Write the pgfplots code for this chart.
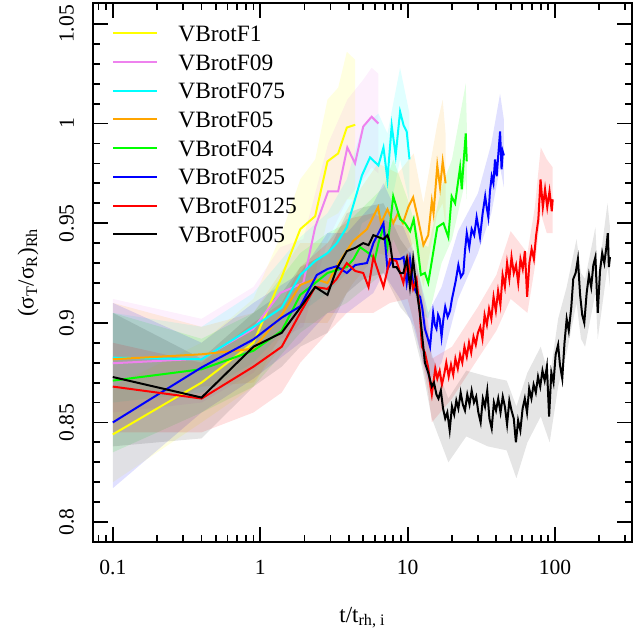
\documentclass[border=0pt]{standalone}
\usepackage{fontspec}
\setmainfont{Liberation Serif}
\usepackage{pgfplots}
\usepackage{pgfplotstable}
\pgfplotsset{compat=1.18}
\usepgfplotslibrary{fillbetween}
\definecolor{cF1}{HTML}{FFFF00}
\definecolor{cF09}{HTML}{EE82EE}
\definecolor{cF075}{HTML}{00FFFF}
\definecolor{cF05}{HTML}{FFA500}
\definecolor{cF04}{HTML}{00FF00}
\definecolor{cF025}{HTML}{0000FF}
\definecolor{cF0125}{HTML}{FF0000}
\definecolor{cF005}{HTML}{000000}

% ---------------- lines ----------------
\pgfplotstableread{
t v
0.1 0.844
0.4 0.870
0.9 0.890
1.4 0.923
1.87 0.947
2.36 0.9535
2.86 0.981
3.38 0.985
3.87 0.998
4.41 0.9994
}\lA
\pgfplotstableread{
t v
0.1 0.8797
0.4 0.882
0.9 0.897
1.37 0.915
1.96 0.920
2.36 0.948
2.89 0.966
3.38 0.966
3.9 0.988
4.4 0.980
5.0 0.9985
5.7 1.0034
6.34 1.000
}\lB
\pgfplotstableread{
t v
0.1 0.8825
0.4 0.8817
0.9 0.898
1.4 0.9076
1.87 0.924
2.36 0.931
2.86 0.935
3.31 0.940
3.87 0.948
4.4 0.962
4.9 0.974
5.56 0.983
6.34 0.979
6.86 0.988
7.3 0.972
7.8 0.999
8.3 0.984
8.89 1.006
9.4 0.999
9.86 0.996
10.3 0.982
}\lC
\pgfplotstableread{
t v
0.1 0.8817
0.4 0.8842
0.9 0.887
1.4 0.904
1.87 0.919
2.36 0.922
2.86 0.920
3.4 0.930
4.27 0.941
5.3 0.947
6.3 0.958
6.6 0.950
7.3 0.957
8.0 0.950
8.6 0.955
9.3 0.950
10.1 0.958
10.9 0.963
11.7 0.953
12.8 0.939
13.8 0.944
14.6 0.961
15.0 0.955
15.9 0.979
16.6 0.968
17.3 0.981
18.1 0.970
}\lD
\pgfplotstableread{
t v
0.1 0.871
0.4 0.8767
0.9 0.886
1.4 0.896
1.87 0.914
2.36 0.920
2.86 0.925
3.87 0.928
4.3 0.932
4.76 0.938
5.43 0.935
6.0 0.932
6.34 0.940
6.86 0.948
7.3 0.938
7.99 0.9635
8.9 0.952
9.6 0.950
10.4 0.946
11.0 0.952
11.6 0.940
12.3 0.924
13.1 0.925
13.8 0.920
14.6 0.931
15.9 0.948
17.5 0.950
18.9 0.943
19.9 0.9635
21.0 0.960
22.7 0.978
23.3 0.967
24.0 0.981
24.8 0.995
25.2 0.981
}\lE
\pgfplotstableread{
t v
0.1 0.850
0.4 0.8776
0.9 0.8917
1.4 0.9026
1.87 0.9083
2.42 0.924
2.86 0.927
3.3 0.9284
3.87 0.925
4.41 0.929
5.3 0.930
5.86 0.940
6.86 0.950
7.3 0.927
7.99 0.932
8.9 0.932
9.4 0.933
9.86 0.920
10.38 0.932
11.0 0.918
11.5 0.915
12.15 0.913
12.6 0.907
13.1 0.897
13.6 0.893
14.2 0.888
14.9 0.905
15.3 0.899
15.7 0.897
16.1 0.904
16.5 0.902
17.0 0.893
17.5 0.902
18.0 0.908
18.7 0.903
19.4 0.906
20.0 0.912
20.4 0.915
21.2 0.921
22.1 0.929
23.0 0.923
23.9 0.925
24.5 0.936
25.2 0.945
26.2 0.938
27.2 0.947
28.3 0.944
29.4 0.953
30.2 0.948
31.0 0.943
32.3 0.955
33.6 0.9635
34.4 0.958
35.3 0.953
36.2 0.966
37.2 0.9735
38.2 0.970
39.2 0.982
40.2 0.9735
41.3 0.985
42.4 0.996
43.4 0.977
44.2 0.986
45.0 0.984
}\lF
\pgfplotstableread{
t v
0.1 0.868
0.4 0.862
0.9 0.878
1.4 0.888
1.87 0.905
2.36 0.918
2.86 0.917
3.3 0.922
3.87 0.930
4.41 0.926
5.0 0.925
5.43 0.918
5.86 0.933
6.86 0.918
7.6 0.932
8.4 0.931
9.36 0.920
10.0 0.932
10.9 0.917
11.5 0.922
12.1 0.905
12.5 0.888
13.1 0.885
13.8 0.8775
14.3 0.868
14.6 0.864
15.4 0.877
15.9 0.872
16.5 0.876
17.1 0.869
17.7 0.874
18.3 0.880
19.0 0.873
19.7 0.879
20.4 0.874
21.1 0.882
21.9 0.877
22.7 0.884
23.5 0.880
24.3 0.888
25.2 0.883
26.1 0.890
27.0 0.885
28.0 0.893
29.0 0.889
30.0 0.895
31.1 0.898
32.2 0.892
33.3 0.904
34.5 0.899
35.7 0.907
37.0 0.902
38.3 0.913
39.7 0.906
41.1 0.916
42.6 0.909
44.1 0.924
45.7 0.918
47.3 0.930
49.0 0.922
50.7 0.933
52.5 0.925
54.4 0.929
56.3 0.920
58.3 0.932
60.4 0.927
62.5 0.936
64.7 0.913
67.0 0.930
69.4 0.937
71.9 0.932
74.5 0.944
77.1 0.952
79.8 0.972
82.7 0.958
85.6 0.967
88.6 0.958
91.8 0.966
95.1 0.956
96.5 0.962
}\lG
\pgfplotstableread{
t v
0.1 0.8728
0.4 0.8625
0.9 0.888
1.4 0.895
1.87 0.9076
2.36 0.918
2.86 0.914
3.3 0.927
3.87 0.936
4.41 0.9376
5.0 0.940
5.43 0.939
5.86 0.944
6.34 0.943
6.86 0.942
7.3 0.944
7.6 0.940
8.0 0.928
8.4 0.928
8.9 0.925
9.36 0.925
9.86 0.932
10.38 0.918
10.9 0.932
11.5 0.917
12.1 0.905
12.5 0.895
13.1 0.880
13.8 0.875
14.6 0.868
15.1 0.870
15.7 0.864
16.2 0.862
16.8 0.866
17.4 0.857
18.0 0.852
18.6 0.855
19.3 0.846
20.0 0.858
20.7 0.854
21.4 0.861
22.1 0.857
22.9 0.865
23.7 0.859
24.5 0.856
25.4 0.864
26.3 0.859
27.2 0.866
28.2 0.860
29.2 0.863
30.2 0.855
31.3 0.850
32.4 0.862
33.5 0.858
34.7 0.866
35.9 0.852
37.2 0.847
38.5 0.860
39.8 0.856
41.2 0.862
42.7 0.855
44.2 0.863
45.7 0.858
47.3 0.849
49.0 0.861
50.7 0.856
52.5 0.852
54.3 0.840
56.2 0.851
58.2 0.846
60.3 0.857
62.4 0.862
64.6 0.855
66.8 0.867
69.2 0.862
71.6 0.869
74.1 0.865
76.7 0.873
79.4 0.868
82.2 0.876
85.1 0.871
88.1 0.878
91.2 0.853
94.4 0.875
97.7 0.870
101 0.884
105 0.889
108 0.879
112 0.872
116 0.890
120 0.902
124 0.896
129 0.908
133 0.922
138 0.925
143 0.932
148 0.914
153 0.904
158 0.900
164 0.915
170 0.924
176 0.918
182 0.929
188 0.933
195 0.905
202 0.926
209 0.935
216 0.930
224 0.939
228 0.945
232 0.928
236 0.933
}\lH

% ---------------- bands ----------------
\pgfplotstableread{
t lo hi
0.1 0.820 0.868
0.4 0.850 0.890
0.9 0.868 0.912
1.4 0.895 0.945
1.87 0.920 0.972
2.36 0.925 0.982
2.86 0.952 1.012
3.38 0.955 1.018
3.87 0.962 1.036
4.41 0.962 1.032
}\bA
\pgfplotstableread{
t lo hi
0.1 0.855 0.912
0.4 0.860 0.902
0.9 0.875 0.918
1.37 0.892 0.938
1.96 0.898 0.942
2.89 0.942 0.990
3.9 0.962 1.012
5.0 0.972 1.022
5.7 0.978 1.028
6.34 0.975 1.025
}\bB
\pgfplotstableread{
t lo hi
0.1 0.860 0.905
0.4 0.865 0.898
0.9 0.880 0.915
1.87 0.905 0.943
2.86 0.915 0.955
3.87 0.925 0.972
4.9 0.950 0.998
6.34 0.955 1.005
7.3 0.950 0.995
8.89 0.982 1.028
10.3 0.960 1.005
}\bC
\pgfplotstableread{
t lo hi
0.1 0.845 0.910
0.4 0.868 0.898
0.9 0.870 0.905
1.87 0.900 0.940
2.86 0.900 0.940
4.27 0.920 0.962
6.3 0.935 0.980
8.6 0.932 0.975
11.0 0.940 0.985
12.8 0.918 0.960
15.9 0.955 1.000
17.3 0.960 1.012
18.1 0.948 0.995
}\bD
\pgfplotstableread{
t lo hi
0.1 0.835 0.905
0.4 0.855 0.892
0.9 0.868 0.905
1.87 0.895 0.935
2.86 0.905 0.945
3.87 0.910 0.950
6.86 0.925 0.968
8.0 0.942 0.982
10.0 0.925 0.962
12.3 0.905 0.940
13.8 0.902 0.938
17.0 0.930 0.968
20.0 0.942 0.982
24.8 0.972 1.020
25.2 0.962 1.000
}\bE
\pgfplotstableread{
t lo hi
0.1 0.817 0.910
0.4 0.855 0.890
0.9 0.872 0.910
1.87 0.890 0.925
2.86 0.905 0.945
3.87 0.905 0.945
5.86 0.915 0.960
6.86 0.925 0.970
8.9 0.912 0.952
11.0 0.898 0.935
13.8 0.870 0.905
17.0 0.880 0.918
22.0 0.912 0.946
30.0 0.935 0.965
37.0 0.955 0.990
42.4 0.978 1.015
45.0 0.968 1.002
}\bF
\pgfplotstableread{
t lo hi
0.1 0.845 0.890
0.4 0.845 0.880
0.9 0.855 0.900
1.4 0.865 0.910
1.87 0.880 0.928
2.86 0.895 0.940
3.87 0.905 0.952
5.86 0.905 0.955
7.6 0.910 0.950
10.0 0.912 0.948
11.5 0.895 0.930
13.8 0.865 0.900
14.6 0.850 0.882
20.0 0.862 0.888
30.0 0.882 0.908
40.0 0.896 0.924
50.0 0.912 0.946
65.0 0.905 0.935
73.0 0.928 0.958
80.0 0.955 0.988
88.0 0.945 0.982
96.5 0.945 0.978
}\bG
\pgfplotstableread{
t lo hi
0.1 0.838 0.905
0.4 0.842 0.882
0.9 0.868 0.905
1.4 0.878 0.915
1.87 0.888 0.928
2.86 0.895 0.935
3.87 0.915 0.955
5.0 0.922 0.958
6.86 0.925 0.960
8.9 0.908 0.942
10.4 0.902 0.935
12.5 0.878 0.912
14.6 0.852 0.884
18.9 0.830 0.862
25.0 0.843 0.876
35.0 0.838 0.873
47.0 0.836 0.871
54.7 0.822 0.858
65.0 0.840 0.875
80.0 0.853 0.888
92.0 0.840 0.872
105 0.868 0.902
120 0.885 0.918
140 0.910 0.942
150 0.892 0.925
160 0.888 0.922
188 0.915 0.948
195 0.892 0.922
227 0.928 0.960
236 0.918 0.948
}\bH

\newcommand{\band}[4]{%
  \addplot[draw=none, forget plot, name path=#1lo] table[x=t,y=lo]{#2};
  \addplot[draw=none, forget plot, name path=#1hi] table[x=t,y=hi]{#2};
  \addplot[draw=none, fill=#3, fill opacity=#4, forget plot] fill between[of=#1lo and #1hi];
}

\begin{document}
\begin{tikzpicture}
\begin{axis}[
  width=269.5pt, height=269.5pt, scale only axis,
  xmode=log, xmin=0.0734, xmax=333, ymin=0.790, ymax=1.0605,
  xtick={0.1,1,10,100}, xticklabels={0.1,1,10,100},
  minor xtick={0.08,0.09,0.2,0.3,0.4,0.5,0.6,0.7,0.8,0.9,2,3,4,5,6,7,8,9,20,30,40,50,60,70,80,90,200,300},
  ytick={0.8,0.85,0.9,0.95,1,1.05}, yticklabels={0.8,0.85,0.9,0.95,1,1.05},
  minor ytick={0.81,0.82,0.83,0.84,0.86,0.87,0.88,0.89,0.91,0.92,0.93,0.94,0.96,0.97,0.98,0.99,1.01,1.02,1.03,1.04},
  tick align=inside, xtick pos=both, ytick pos=both,
  major tick length=7.5pt, minor tick length=3.75pt,
  axis line style={line width=1.2pt},
  every tick/.style={black, line width=0.9pt},
  xticklabel style={font=\fontsize{10.8}{12}\selectfont, yshift=-5.5pt},
  yticklabel style={font=\fontsize{10.8}{12}\selectfont, rotate=90, anchor=south, yshift=6pt},
  xlabel={t/t\textsubscript{rh, i}},
  ylabel={(σ\textsubscript{T}/σ\textsubscript{R})\textsubscript{Rh}},
  xlabel style={at={(axis description cs:0.5,-0.1405)}, anchor=center},
  ylabel style={at={(axis description cs:-0.1206,0.5)}, anchor=center},
  label style={font=\fontsize{11.5}{13}\selectfont},
  legend cell align=left,
  legend image code/.code={\draw[#1] (0pt,0pt) -- (22pt,0pt);},
  legend style={at={(0.0353,0.963)}, anchor=north west, draw=none, fill=none,
    inner sep=0pt, row sep=4.35pt, font=\fontsize{11.7}{14}\selectfont,
    nodes={inner sep=1pt, text height=8pt, text depth=0pt},
    /tikz/every odd column/.append style={column sep=9pt}},
]
\band{a}{\bA}{cF1}{0.12}
\band{b}{\bB}{cF09}{0.12}
\band{c}{\bC}{cF075}{0.12}
\band{d}{\bD}{cF05}{0.12}
\band{e}{\bE}{cF04}{0.12}
\band{f}{\bF}{cF025}{0.12}
\band{g}{\bG}{cF0125}{0.12}
\band{h}{\bH}{cF005}{0.1}
\addplot[cF1, line width=1pt] table[x=t,y=v]{\lA};
\addlegendentry{VBrotF1}
\addplot[cF09, line width=1pt] table[x=t,y=v]{\lB};
\addlegendentry{VBrotF09}
\addplot[cF075, line width=1pt] table[x=t,y=v]{\lC};
\addlegendentry{VBrotF075}
\addplot[cF05, line width=1pt] table[x=t,y=v]{\lD};
\addlegendentry{VBrotF05}
\addplot[cF04, line width=1pt] table[x=t,y=v]{\lE};
\addlegendentry{VBrotF04}
\addplot[cF025, line width=1pt] table[x=t,y=v]{\lF};
\addlegendentry{VBrotF025}
\addplot[cF0125, line width=1pt] table[x=t,y=v]{\lG};
\addlegendentry{VBrotF0125}
\addplot[cF005, line width=1pt] table[x=t,y=v]{\lH};
\addlegendentry{VBrotF005}
\end{axis}
\pgfresetboundingbox
\path[use as bounding box] (current axis.south west) ++(-46.5pt,-42.5pt) rectangle (current axis.north east) ++(0.5pt,1.5pt);
\end{tikzpicture}
\end{document}
